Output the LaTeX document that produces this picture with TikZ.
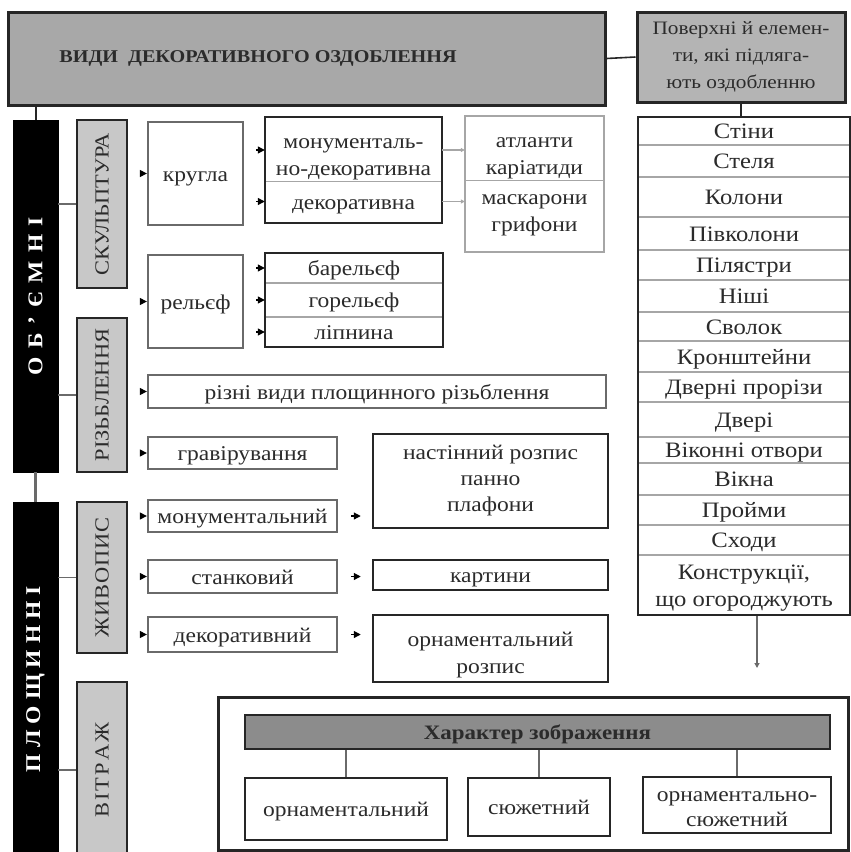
\documentclass[tikz,border=0pt]{standalone}
\usepackage{fontspec}
\setmainfont[FakeStretch=1.12]{Liberation Serif}
\usetikzlibrary{arrows.meta}
\definecolor{titlegray}{HTML}{A8A8A8}
\definecolor{surfgray}{HTML}{B4B4B4}
\definecolor{labgray}{HTML}{C8C8C8}
\definecolor{bargray}{HTML}{8C8C8C}
\definecolor{edgedark}{HTML}{262626}
\definecolor{edgemid}{HTML}{6A6A6A}
\definecolor{edgelight}{HTML}{A6A6A6}
\definecolor{txt}{HTML}{2B2B2B}
\begin{document}
\begin{tikzpicture}[x=1pt,y=-1pt,
  every node/.style={font=\fontsize{21}{27}\selectfont, text=txt, inner sep=0pt, align=center,
                     text height=17pt, text depth=2pt},
  multi/.style={text height=, text depth=},
  darkbox/.style={draw=edgedark, line width=2.5pt, fill=white},
  midbox/.style={draw=edgemid, line width=2.3pt, fill=white},
  lightbox/.style={draw=edgelight, line width=1.6pt, fill=white},
  labelbox/.style={multi, draw=edgedark, line width=2.5pt, fill=labgray, font=\fontsize{20}{22}\selectfont},
  colbox/.style={multi, fill=black, draw=black, text=white, font=\bfseries\fontsize{21}{22}\selectfont},
  link/.style={draw=edgemid, line width=1.6pt},
  tip/.style={-{Triangle[length=7pt,width=7pt]}, line width=1.2pt, draw=black},
  smalltip/.style={-{Triangle[length=4pt,width=4pt]}, line width=1.4pt, draw=edgelight},
  divider/.style={draw=edgelight, line width=1.5pt, shorten <=1.2pt, shorten >=1.2pt},
]
\useasboundingbox (0,0) rectangle (851,852);

% ---- top row
\node[multi, draw=edgedark, line width=3pt, fill=titlegray, minimum width=597pt, minimum height=93pt,
      font=\bfseries\fontsize{18}{20}\selectfont] (title) at (306.5,58.5)
      {ВИДИ\ \ ДЕКОРАТИВНОГО ОЗДОБЛЕННЯ\hspace*{97pt}};
\node[multi, draw=edgedark, line width=3pt, fill=surfgray, minimum width=208pt, minimum height=90pt,
      font=\fontsize{19}{27}\selectfont] (surf) at (741,57)
      {Поверхні й елемен-\\ти, які підляга-\\ють оздобленню};
\draw[link, draw=edgedark] (title.east) -- (surf.west);

% ---- black columns
\node[colbox, minimum width=45pt, minimum height=352pt] (vol) at (35.5,296)
  {\rotatebox{90}{О\hspace{8.5pt}Б\hspace{8.5pt}'\hspace{8.5pt}Є\hspace{8.5pt}М\hspace{8.5pt}Н\hspace{8.5pt}І}};
\node[colbox, minimum width=45pt, minimum height=354pt] (flat) at (35.5,679)
  {\rotatebox{90}{П\hspace{6pt}Л\hspace{6pt}О\hspace{6pt}Щ\hspace{6pt}И\hspace{6pt}Н\hspace{6pt}Н\hspace{6pt}І}};
\draw[link, draw=edgedark, line width=2pt] (vol.north) -- (vol.north |- title.south);
\draw[link, line width=3pt] (vol.south) -- (flat.north);

% ---- grey category boxes
\node[labelbox, minimum width=50pt, minimum height=168pt] (sculpt) at (102,204) {\rotatebox{90}{СКУЛЬПТУРА}};
\node[labelbox, minimum width=50pt, minimum height=154pt] (rizb) at (102,395) {\rotatebox{90}{РІЗЬБЛЕННЯ}};
\node[labelbox, minimum width=50pt, minimum height=151pt] (zhyv) at (102,577.5) {\rotatebox{90}{Ж\hspace{1pt}И\hspace{1pt}В\hspace{1pt}О\hspace{1pt}П\hspace{1pt}И\hspace{1pt}С}};
\node[labelbox, minimum width=50pt, minimum height=176pt] (vitr) at (102,770) {\rotatebox{90}{В\hspace{2pt}І\hspace{2pt}Т\hspace{2pt}Р\hspace{2pt}А\hspace{2pt}Ж}};
\draw[link] (sculpt.west) -- (sculpt.west -| vol.east);
\draw[link] (rizb.west) -- (rizb.west -| vol.east);
\draw[link] (zhyv.west) -- (zhyv.west -| flat.east);
\draw[link] (vitr.west) -- (vitr.west -| flat.east);

% ---- sculpture
\node[midbox, minimum width=95pt, minimum height=103pt] (kruhla) at (195.5,173.5) {кругла};
\node[midbox, minimum width=95pt, minimum height=93pt] (relief) at (195.5,301.5) {рельєф};
\draw[tip, shorten <=12pt] (sculpt.east |- kruhla.west) -- (kruhla.west);
\draw[tip, shorten <=12pt] (sculpt.east |- relief.west) -- (relief.west);

\node[darkbox, minimum width=177pt, minimum height=106pt] (monu) at (353.5,170) {};
\node[multi, minimum width=177pt, minimum height=63pt] (m1) at (353.5,150) {\rule{0pt}{29pt}монументаль-\\но-декоративна};
\node[minimum width=177pt, minimum height=43pt] (m2) at (353.5,201.5) {декоративна};
\draw[divider] (m1.south west) -- (m1.south east);
\draw[tip, shorten <=12pt] (kruhla.east |- m1.west) -- (m1.west);
\draw[tip, shorten <=12pt] (kruhla.east |- m2.west) -- (m2.west);

\node[lightbox, minimum width=139pt, minimum height=136pt] (atl) at (534.5,184) {};
\node[multi, minimum width=139pt, minimum height=63pt] (a1) at (534.5,149) {\rule{0pt}{29pt}атланти\\каріатиди};
\node[multi, minimum width=139pt, minimum height=73pt] (a2) at (534.5,215.5) {маскарони\\грифони};
\draw[divider] (a1.south west) -- (a1.south east);
\draw[smalltip] (m1.east) -- (m1.east -| a1.west);
\draw[smalltip] (m2.east) -- (m2.east -| a2.west);

\node[darkbox, minimum width=178pt, minimum height=94pt] (rlist) at (354,300) {};
\node[minimum width=178pt, minimum height=30pt] (r1) at (354,268) {барельєф};
\node[minimum width=178pt, minimum height=34pt] (r2) at (354,300) {горельєф};
\node[minimum width=178pt, minimum height=30pt] (r3) at (354,332) {ліпнина};
\draw[divider] (r1.south west) -- (r1.south east);
\draw[divider] (r2.south west) -- (r2.south east);
\foreach \r in {r1,r2,r3} \draw[tip, shorten <=12pt] (relief.east |- \r.west) -- (\r.west);

% ---- carving
\node[midbox, minimum width=458pt, minimum height=33pt] (vydy) at (377,391.5) {різні види площинного різьблення};
\node[midbox, minimum width=189pt, minimum height=32pt] (hrav) at (242.5,453) {гравірування};
\draw[tip, shorten <=12pt] (rizb.east |- vydy.west) -- (vydy.west);
\draw[tip, shorten <=12pt] (rizb.east |- hrav.west) -- (hrav.west);

% ---- painting
\node[midbox, minimum width=189pt, minimum height=32pt] (mon) at (242.5,516) {монументальний};
\node[midbox, minimum width=189pt, minimum height=33pt] (stan) at (242.5,576.5) {станковий};
\node[midbox, minimum width=189pt, minimum height=35pt] (dek) at (242.5,634.5) {декоративний};
\foreach \p in {mon,stan,dek} \draw[tip, shorten <=12pt] (zhyv.east |- \p.west) -- (\p.west);

\node[multi, darkbox, minimum width=235pt, minimum height=94pt, font=\fontsize{21}{26}\selectfont] (nast) at (490.5,481) {настінний розпис\\панно\\плафони};
\node[darkbox, minimum width=235pt, minimum height=30pt] (kart) at (490.5,575) {картини};
\node[multi, darkbox, minimum width=235pt, minimum height=67pt] (ornr) at (490.5,648.5) {\rule{0pt}{28pt}орнаментальний\\розпис};
\draw[tip, shorten <=13pt, shorten >=11pt] (mon.east) -- (mon.east -| nast.west);
\draw[tip, shorten <=13pt, shorten >=11pt] (stan.east) -- (stan.east -| kart.west);
\draw[tip, shorten <=13pt, shorten >=11pt] (dek.east) -- (dek.east -| ornr.west);

% ---- surfaces list
\node[darkbox, minimum width=212pt, minimum height=498pt] (list) at (744,366) {};
\draw[link, draw=edgedark, line width=2.5pt] (surf.south) -- (surf.south |- list.north);
\begin{scope}[every node/.append style={minimum width=212pt, font=\fontsize{22}{27}\selectfont}]
\node[minimum height=28pt] (l1) at (744,131) {Стіни};
\node[minimum height=32pt] (l2) at (744,161) {Стеля};
\node[minimum height=40pt] (l3) at (744,197) {Колони};
\node[minimum height=33pt] (l4) at (744,233.5) {Півколони};
\node[minimum height=30pt] (l5) at (744,265) {Пілястри};
\node[minimum height=32pt] (l6) at (744,296) {Ніші};
\node[minimum height=29pt] (l7) at (744,326.5) {Сволок};
\node[minimum height=31pt] (l8) at (744,356.5) {Кронштейни};
\node[minimum height=30pt] (l9) at (744,387) {Дверні прорізи};
\node[minimum height=35pt] (l10) at (744,419.5) {Двері};
\node[minimum height=26pt] (l11) at (744,450) {Віконні отвори};
\node[minimum height=32pt] (l12) at (744,479) {Вікна};
\node[minimum height=30pt] (l13) at (744,510) {Пройми};
\node[minimum height=30pt] (l14) at (744,540) {Сходи};
\node[multi, minimum height=60pt] (l15) at (744,588) {Конструкції,\\що огороджують};
\end{scope}
\foreach \i in {1,...,14} \draw[divider] (l\i.south west) -- (l\i.south east);
\coordinate (lend) at (757,668);
\draw[link, -{Triangle[length=5pt,width=5pt]}] (lend |- list.south) -- (lend);

% ---- character of the image
\node[darkbox, line width=3pt, minimum width=630pt, minimum height=153pt] (char) at (533,773.5) {};
\node[draw=edgedark, line width=2.5pt, fill=bargray, minimum width=585pt, minimum height=34pt,
      font=\bfseries\fontsize{20.5}{22}\selectfont] (bar) at (537.5,732) {Характер зображення};
\node[darkbox, line width=2pt, minimum width=202pt, minimum height=62pt] (orn) at (346,809) {орнаментальний};
\node[darkbox, line width=2pt, minimum width=142pt, minimum height=58pt] (syu) at (539,807) {сюжетний};
\node[multi, darkbox, line width=2pt, minimum width=188pt, minimum height=56pt, font=\fontsize{21}{25}\selectfont] (ornsyu) at (737,805) {\rule{0pt}{18pt}орнаментально-\\сюжетний};
\foreach \b in {orn,syu,ornsyu} \draw[link, line width=1.2pt] (\b.north) -- (\b.north |- bar.south);
\end{tikzpicture}
\end{document}
